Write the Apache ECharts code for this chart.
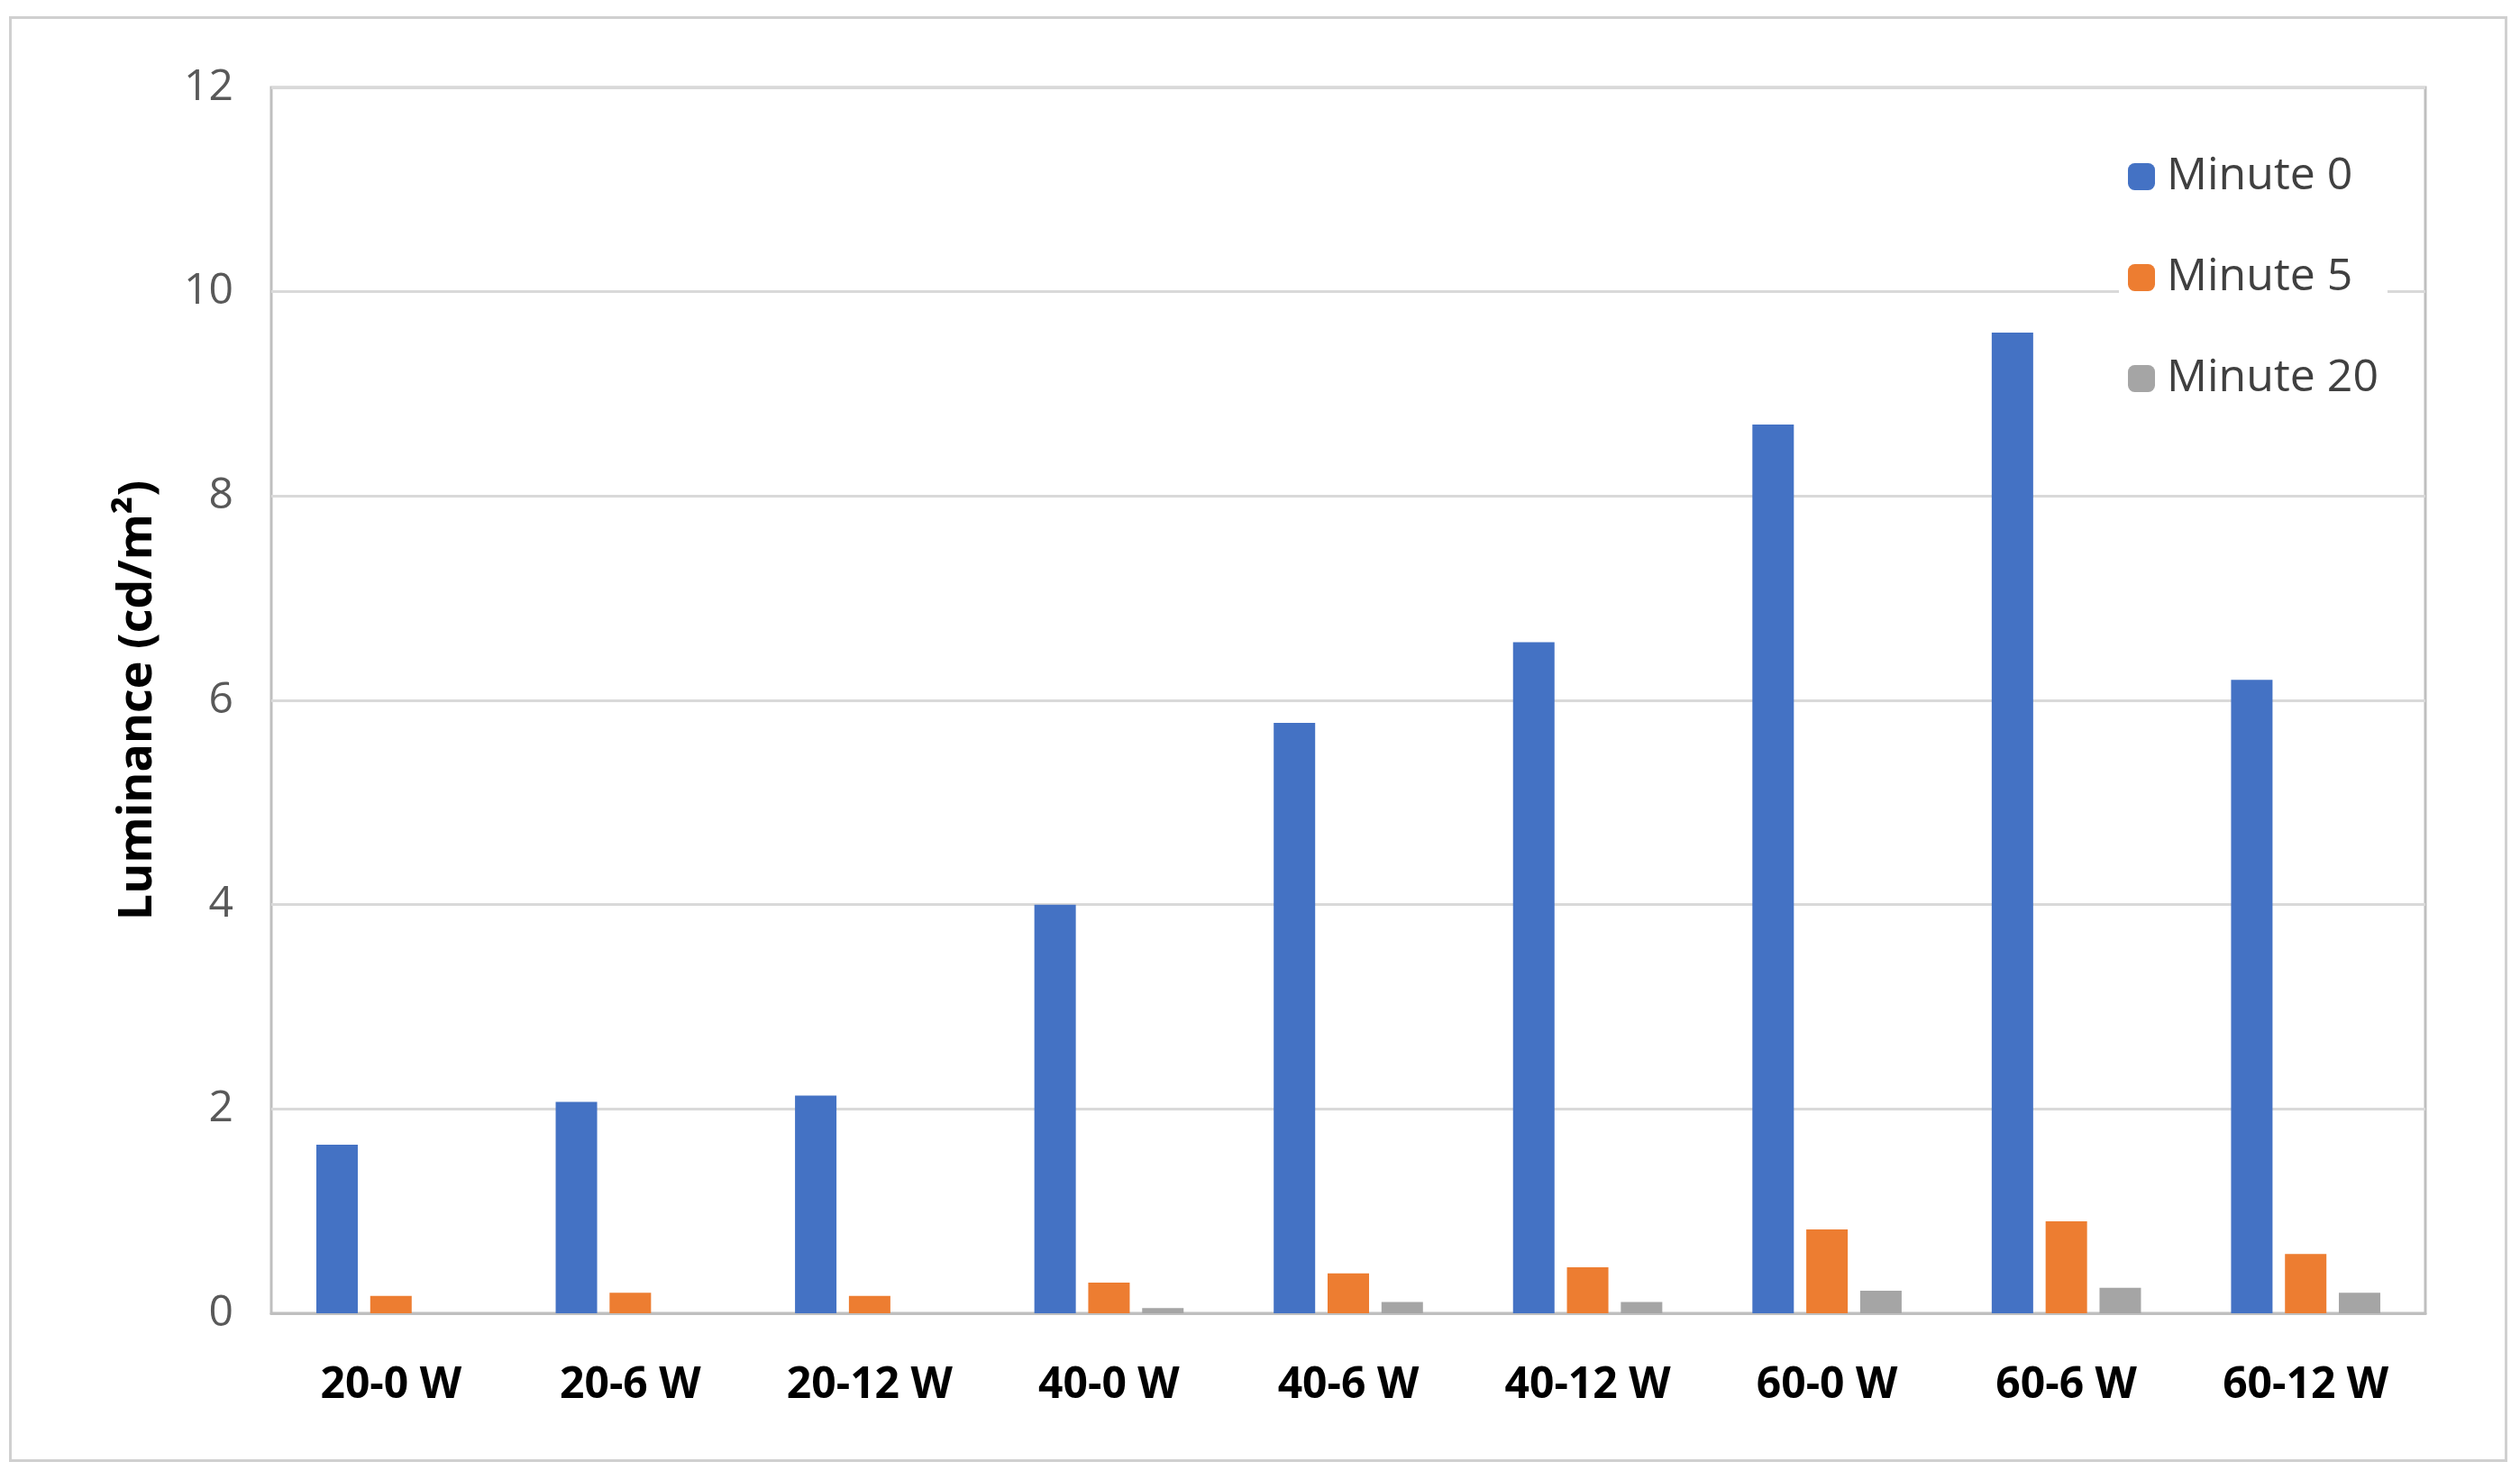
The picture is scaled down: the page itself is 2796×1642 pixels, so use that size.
<!DOCTYPE html>
<html><head><meta charset="utf-8">
<script src="https://cdn.jsdelivr.net/npm/echarts@6/dist/echarts.min.js"></script>
<style>html,body{margin:0;padding:0;background:#fff}
#main{position:absolute;left:10px;top:18px;width:2772px;height:1604px;border:3px solid #d0d0d0;box-sizing:border-box}</style>
</head><body><div id="main"></div>
<script>
var categories = ['20-0 W','20-6 W','20-12 W','40-0 W','40-6 W','40-12 W','60-0 W','60-6 W','60-12 W'];
var minute0 = [1.65, 2.07, 2.13, 4.0, 5.78, 6.57, 8.7, 9.6, 6.2];
var minute5 = [0.17, 0.2, 0.17, 0.3, 0.39, 0.45, 0.82, 0.9, 0.58];
var minute20 = [0, 0, 0, 0.05, 0.11, 0.11, 0.22, 0.25, 0.2];

var gridL = 288, gridR = 88, gridT = 76, gridB = 162;
var myChart = echarts.init(document.getElementById('main'));
var option = {
  animation: false,
  grid: { left: gridL, right: gridR, top: gridT, bottom: gridB },
  legend: {
    orient: 'vertical', right: 130, top: 140, itemGap: 62,
    itemWidth: 30, itemHeight: 30, backgroundColor: '#fff', padding: [10, 10],
    textStyle: { fontSize: 50, color: '#404040', fontFamily: 'Open Sans', padding: [0, 0, 0, 8] },
    data: ['Minute 0', 'Minute 5', 'Minute 20']
  },
  xAxis: {
    type: 'category', data: categories,
    axisLine: { lineStyle: { color: '#bfbfbf', width: 3 } },
    axisTick: { show: false },
    axisLabel: { fontSize: 48, fontWeight: 'bold', color: '#000', margin: 56, fontFamily: 'Open Sans' },
    splitLine: { show: false }
  },
  yAxis: {
    type: 'value', min: 0, max: 12, interval: 2,
    name: 'Luminance (cd/m²)', nameLocation: 'middle', nameGap: 122,
    nameTextStyle: { fontSize: 52, fontWeight: 'bold', color: '#000', fontFamily: 'Open Sans' },
    axisLine: { show: false }, axisTick: { show: false },
    axisLabel: { fontSize: 48, color: '#595959', margin: 42, fontFamily: 'Open Sans' },
    splitLine: { lineStyle: { color: '#d9d9d9', width: 3 } }
  },
  series: [
    { name: 'Minute 0', type: 'bar', data: minute0, barWidth: 46, barGap: '30%', itemStyle: { color: '#4472c4' } },
    { name: 'Minute 5', type: 'bar', data: minute5, barWidth: 46, itemStyle: { color: '#ed7d31' } },
    { name: 'Minute 20', type: 'bar', data: minute20, barWidth: 46, itemStyle: { color: '#a5a5a5' } }
  ],
  graphic: [{ type: 'rect', shape: { x: gridL, y: gridT, width: 2772 - 6 - gridL - gridR, height: 1604 - 6 - gridT - gridB }, style: { fill: 'none', stroke: '#bfbfbf', lineWidth: 3 }, silent: true, z: -1 }]
};
myChart.setOption(option);
</script></body></html>
